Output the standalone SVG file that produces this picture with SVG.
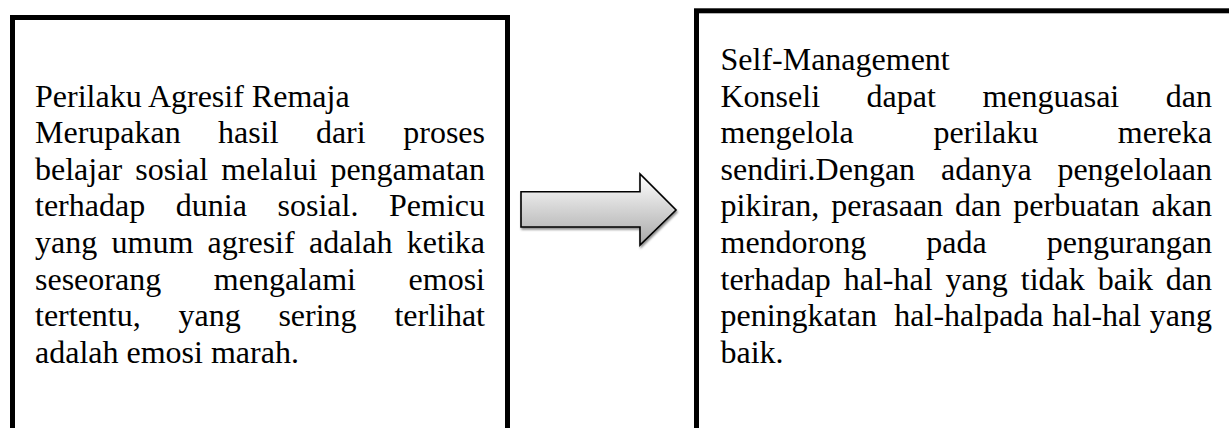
<svg xmlns="http://www.w3.org/2000/svg" width="1229" height="428" viewBox="0 0 1229 428">
<style>
.box{fill:#ffffff;stroke:#000000;stroke-width:5}
.t{font-family:"Liberation Serif","Times New Roman",serif;font-size:32px;fill:#000000}
.e{text-anchor:end}
</style>
<defs>
<linearGradient id="ag" gradientUnits="userSpaceOnUse" x1="0" y1="174" x2="0" y2="245">
<stop offset="0" stop-color="#ffffff"/>
<stop offset="1" stop-color="#a8a8a8"/>
</linearGradient>
<filter id="sh" x="-10%" y="-10%" width="130%" height="140%">
<feDropShadow dx="1" dy="2" stdDeviation="1.2" flood-color="#000000" flood-opacity="0.45"/>
</filter>
</defs>
<rect width="1229" height="428" fill="#ffffff"/>

<g id="node-perilaku">
<rect class="box" x="12.5" y="17.5" width="495" height="430"/>
<text class="t" x="35" y="106.6">Perilaku Agresif Remaja</text>
<text class="t" y="143.2"><tspan x="35">Merupakan</tspan><tspan x="218.1">hasil</tspan><tspan x="315.9">dari</tspan><tspan class="e" x="485">proses</tspan></text>
<text class="t" y="179.8"><tspan x="35">belajar</tspan><tspan x="135.2">sosial</tspan><tspan x="221.3">melalui</tspan><tspan class="e" x="485">pengamatan</tspan></text>
<text class="t" y="216.4"><tspan x="35">terhadap</tspan><tspan x="175.8">dunia</tspan><tspan x="277.5">sosial.</tspan><tspan class="e" x="485">Pemicu</tspan></text>
<text class="t" y="253"><tspan x="35">yang</tspan><tspan x="111.5">umum</tspan><tspan x="207.6">agresif</tspan><tspan x="309">adalah</tspan><tspan class="e" x="485">ketika</tspan></text>
<text class="t" y="289.6"><tspan x="35">seseorang</tspan><tspan x="213.8">mengalami</tspan><tspan class="e" x="485">emosi</tspan></text>
<text class="t" y="326.2"><tspan x="35">tertentu,</tspan><tspan x="178.5">yang</tspan><tspan x="278.4">sering</tspan><tspan class="e" x="485">terlihat</tspan></text>
<text class="t" x="35" y="362.8">adalah emosi marah.</text>
</g>

<g id="node-self-management">
<rect class="box" x="696.5" y="10.8" width="560" height="440"/>
<text class="t" x="720.5" y="70">Self-Management</text>
<text class="t" y="106.6"><tspan x="720.5">Konseli</tspan><tspan x="866.6">dapat</tspan><tspan x="982.4">menguasai</tspan><tspan class="e" x="1212">dan</tspan></text>
<text class="t" y="143.2"><tspan x="720.5">mengelola</tspan><tspan x="933.4">perilaku</tspan><tspan class="e" x="1212">mereka</tspan></text>
<text class="t" y="179.8"><tspan x="720.5">sendiri.Dengan</tspan><tspan x="941">adanya</tspan><tspan class="e" x="1212">pengelolaan</tspan></text>
<text class="t" y="216.4"><tspan x="720.5">pikiran,</tspan><tspan x="831.2">perasaan</tspan><tspan x="955.1">dan</tspan><tspan x="1013.3">perbuatan</tspan><tspan class="e" x="1212">akan</tspan></text>
<text class="t" y="253"><tspan x="720.5">mendorong</tspan><tspan x="926.3">pada</tspan><tspan class="e" x="1212">pengurangan</tspan></text>
<text class="t" y="289.6"><tspan x="720.5">terhadap</tspan><tspan x="843.7">hal-hal</tspan><tspan x="945.6">yang</tspan><tspan x="1020.8">tidak</tspan><tspan x="1097.8">baik</tspan><tspan class="e" x="1212">dan</tspan></text>
<text class="t" y="326.2"><tspan x="720.5">peningkatan</tspan><tspan x="894.3">hal-halpada</tspan><tspan x="1052.3">hal-hal</tspan><tspan class="e" x="1212">yang</tspan></text>
<text class="t" x="720.5" y="362.8">baik.</text>
</g>

<g id="connectors">
<path id="arrow-1" d="M521,191.7 L640,191.7 L640,174 L676,210 L640,245 L640,227 L521,227 Z" fill="url(#ag)" stroke="#000000" stroke-width="1.6" stroke-linejoin="miter" filter="url(#sh)"/>
</g>
</svg>
